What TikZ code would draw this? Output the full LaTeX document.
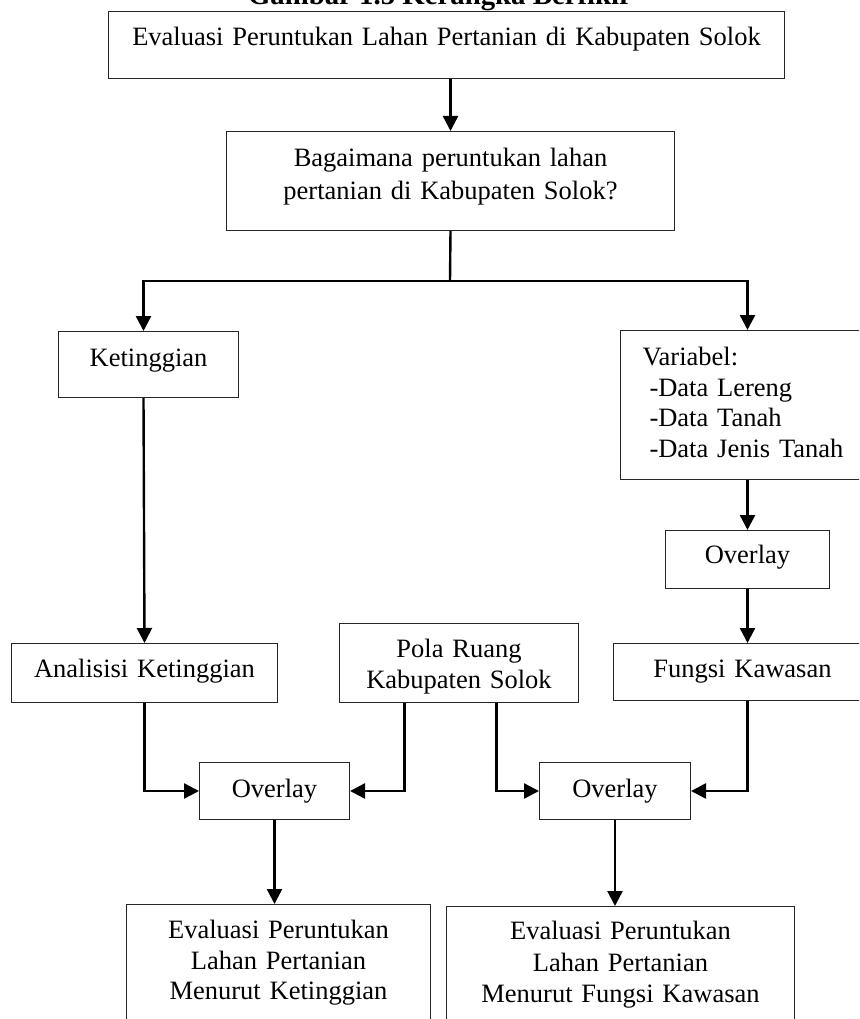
\documentclass[tikz,border=0pt]{standalone}
\usepackage{fontspec}
\setmainfont{Liberation Serif}
\usetikzlibrary{arrows.meta}
\newcommand{\isi}[1]{\fontsize{26.5}{#1}\selectfont}

\begin{document}
\begin{tikzpicture}[x=1pt, y=-1pt,
		box/.style={draw=black!85, line width=1pt, inner sep=0pt, anchor=north west, align=center, font=\isi{31}},
		line/.style={line width=2.4pt},
		arrow/.style={line, -{Triangle[length=15pt, width=15pt]}}
		]
		\useasboundingbox (0,0) rectangle (859,1019);
		\clip (0,0) rectangle (859,1019);

		\node[anchor=base, font=\fontsize{28.8}{34}\selectfont\bfseries] (judul) at (440,4.5) {Gambar 1.5 Kerangka Berfikir};
		\node[box, text width=676pt, text height=34pt, text depth=33pt] (evaluasi) at (108,11) {Evaluasi Peruntukan Lahan Pertanian di Kabupaten Solok};
		\node[box, font=\isi{33}, text width=448pt, text height=35pt, text depth=64pt] (question) at (226,131) {Bagaimana peruntukan lahan\\pertanian di Kabupaten Solok?};
		\node[box, text width=180pt, text height=35pt, text depth=31pt] (ketinggian) at (58,331) {Ketinggian};
		\node[box, align=left, inner xsep=22pt, font=\isi{30.7}, text width=220pt, text height=35pt, text depth=114pt] (variabel) at (620,330) {Variabel:\\ \hspace*{7pt}-Data Lereng\\ \hspace*{7pt}-Data Tanah\\ \hspace*{7pt}-Data Jenis Tanah};
		\node[box, text width=164pt, text height=33pt, text depth=25pt] (overlayA) at (665,530) {Overlay};
		\node[box, text width=258pt, text height=34pt, text depth=23pt] (fungsi) at (613,643) {Fungsi Kawasan};
		\node[box, text width=266pt, text height=34pt, text depth=25pt] (analisis) at (11,643) {Analisisi Ketinggian};
		\node[box, text width=239pt, text height=34pt, text depth=45pt] (pola) at (339,623) {Pola Ruang\\Kabupaten Solok};
		\node[box, text width=150pt, text height=35pt, text depth=22pt] (overlayL) at (199,762) {Overlay};
		\node[box, text width=151pt, text height=35pt, text depth=22pt] (overlayR) at (539,762) {Overlay};
		\node[box, font=\isi{30.5}, text width=304pt, text height=34pt, text depth=102pt] (hasilL) at (126,904) {Evaluasi Peruntukan\\Lahan Pertanian\\Menurut Ketinggian};
		\node[box, font=\isi{31.5}, text width=348pt, text height=33pt, text depth=101pt] (hasilR) at (446,906) {Evaluasi Peruntukan\\Lahan Pertanian\\Menurut Fungsi Kawasan};
		\coordinate (split) at (450,281);

		\draw[arrow] (question.north |- evaluasi.south) -- (question.north);
		\draw[line] (question.south) -- (split);
		\draw[arrow] (split) -| ([xshift=-5pt]ketinggian.north);
		\draw[arrow] (split) -| (overlayA.north |- variabel.north);
		\draw[arrow] ([xshift=-5pt]ketinggian.south) -- (analisis.north);
		\draw[arrow] (overlayA.north |- variabel.south) -- (overlayA.north);
		\draw[arrow] (overlayA.south) -- (overlayA.south |- fungsi.north);
		\draw[arrow] (analisis.south) |- (overlayL.west);
		\draw[arrow] ([xshift=-54.5pt]pola.south) |- (overlayL.east);
		\draw[arrow] ([xshift=37.5pt]pola.south) |- (overlayR.west);
		\draw[arrow] (overlayA.south |- fungsi.south) |- (overlayR.east);
		\draw[arrow] (overlayL.south) -- (overlayL.south |- hasilL.north);
		\draw[arrow] (overlayR.south) -- (overlayR.south |- hasilR.north);
	\end{tikzpicture}
\end{document}
